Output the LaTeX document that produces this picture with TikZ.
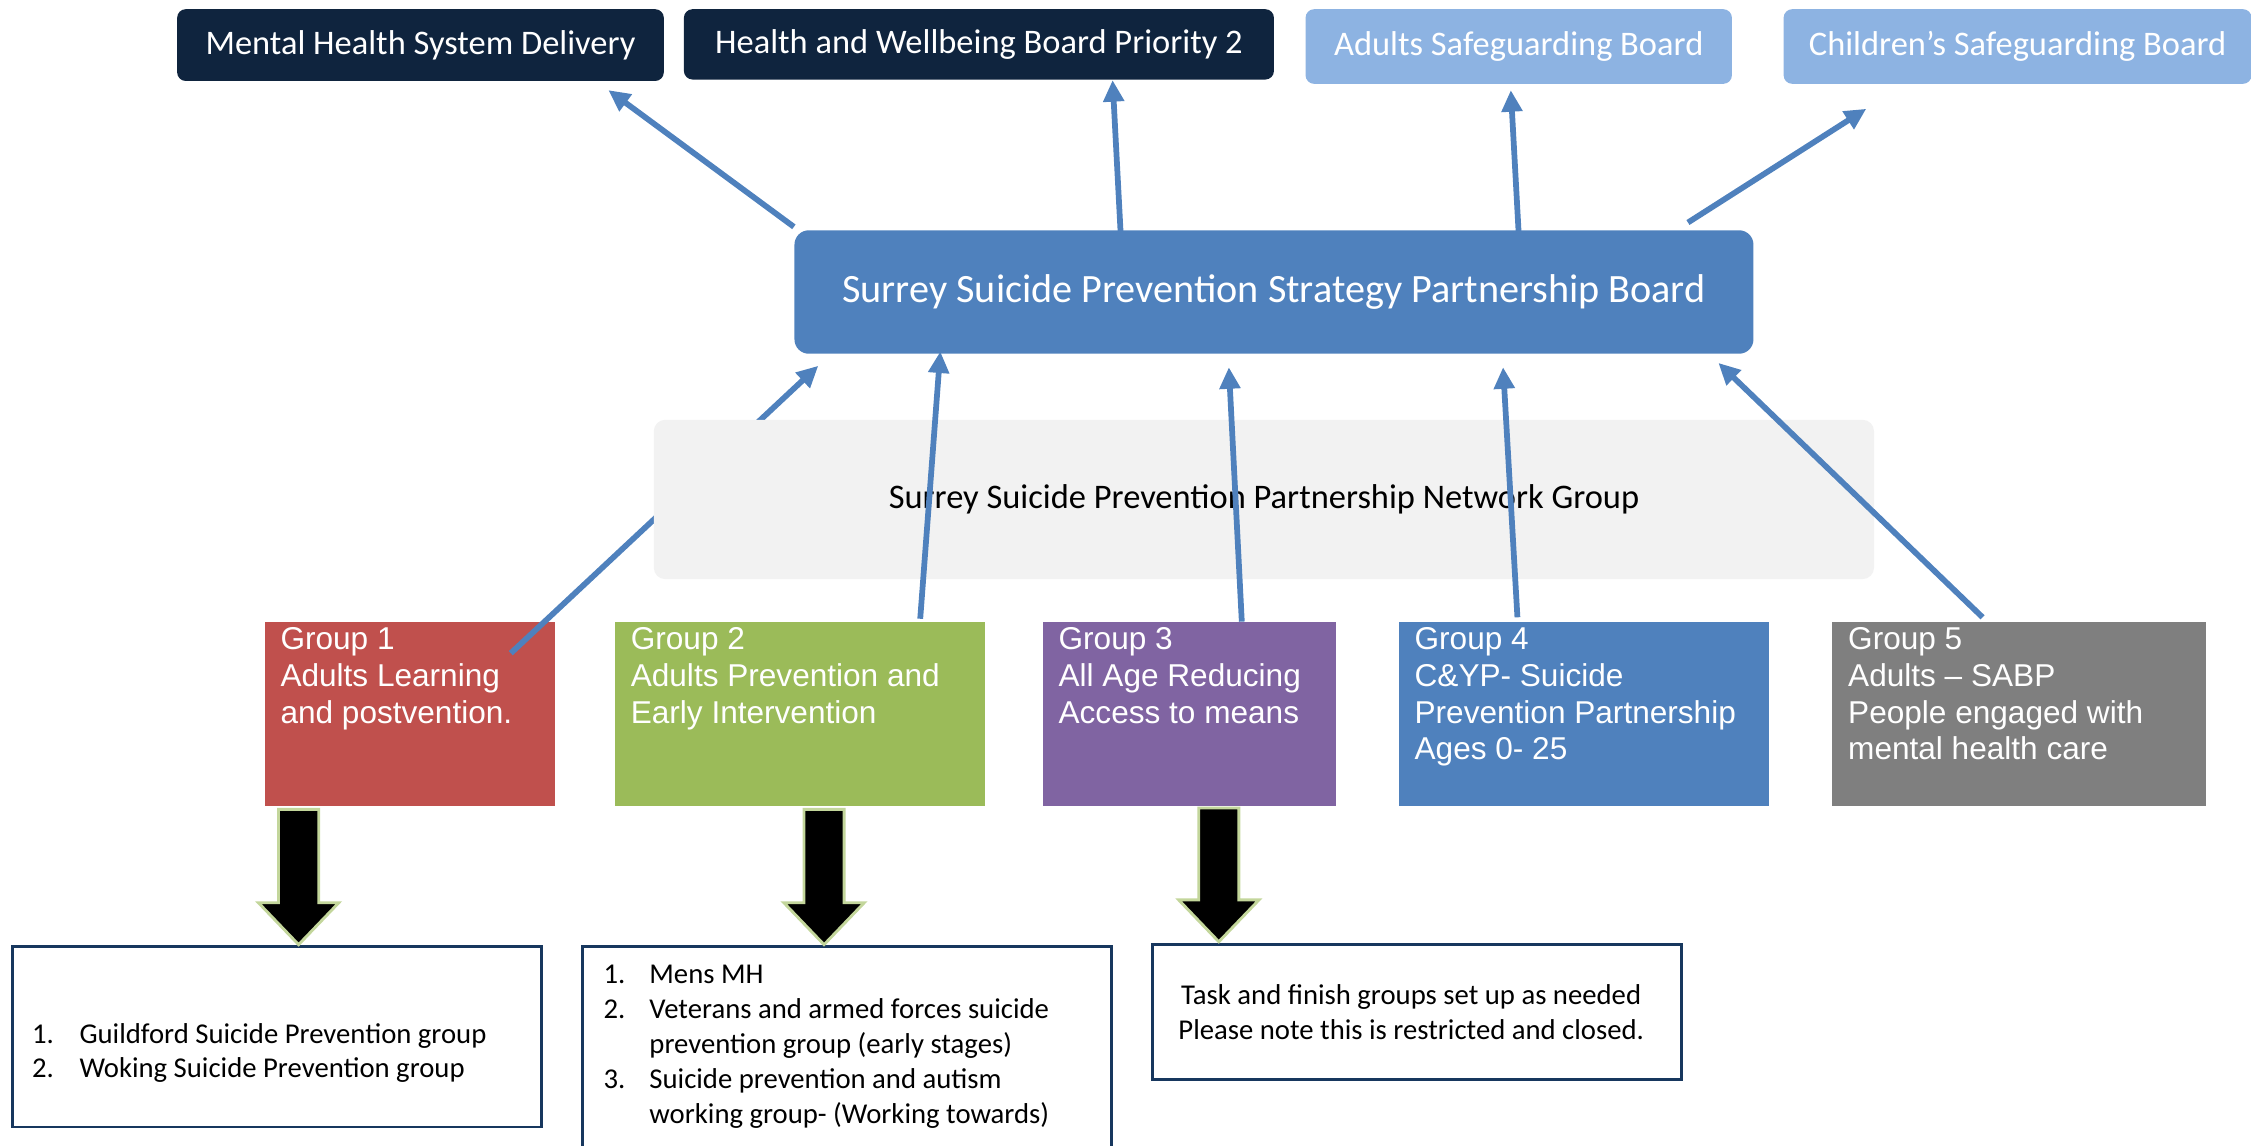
\documentclass[tikz,border=0pt]{standalone}
\usepackage{fontspec}
\setmainfont{Carlito}
\newfontfamily\arialf{Liberation Sans}
\usetikzlibrary{calc,arrows.meta}
\definecolor{navy}{HTML}{0F243E}
\definecolor{lightblue}{HTML}{8DB3E2}
\definecolor{boardblue}{HTML}{4F81BD}
\definecolor{arrowblue}{HTML}{4F81BD}
\definecolor{netgray}{HTML}{F2F2F2}
\definecolor{gone}{HTML}{C0504D}
\definecolor{gtwo}{HTML}{9BBB59}
\definecolor{gthree}{HTML}{8064A2}
\definecolor{gfour}{HTML}{4F81BD}
\definecolor{gfive}{HTML}{7F7F7F}
\definecolor{boxline}{HTML}{17375E}
\definecolor{paleline}{HTML}{C3D69B}
\begin{document}
\begin{tikzpicture}[x=0.5pt,y=-0.5pt,
  topdark/.style={rounded corners=3pt, fill=navy, text=white, anchor=north west, inner sep=0pt, font=\fontsize{12}{14}\selectfont},
  toplight/.style={rounded corners=3pt, fill=lightblue, text=white, anchor=north west, inner sep=0pt, font=\fontsize{12}{14}\selectfont},
  boardbox/.style={rounded corners=5pt, fill=boardblue, text=white, anchor=north west, inner sep=0pt, font=\fontsize{14}{16}\selectfont},
  netbox/.style={rounded corners=4pt, fill=netgray, text=black, anchor=north west, inner sep=0pt, font=\fontsize{12}{14}\selectfont},
  gbox/.style={anchor=north west, inner sep=0pt, minimum height=64pt},
  gtext/.style={anchor=north west, inner sep=0pt, align=left, text=white, font=\arialf\fontsize{11}{12.75}\selectfont},
  bbox/.style={anchor=north west, inner sep=0pt, draw=boxline, line width=1pt, fill=white},
  btext/.style={inner sep=0pt, font=\fontsize{10}{12}\selectfont},
  barrow/.style={draw=arrowblue, line width=2pt, -{Triangle[width=7pt,length=7.5pt]}},
  blk/.style={fill=black, draw=paleline, line width=1pt, line join=miter}
]
\useasboundingbox (0,0) rectangle (1568,798);
\clip (0,0) rectangle (1568,798);

% top boards
\node[topdark, minimum width=169.5pt, minimum height=25pt] (mh) at (123,6) {Mental Health System Delivery};
\node[topdark, minimum width=205.5pt, minimum height=24.5pt] (hw) at (476,6) {Health and Wellbeing Board Priority 2};
\node[toplight, minimum width=148.5pt, minimum height=26pt] (asb) at (909,6) {Adults Safeguarding Board};
\node[toplight, minimum width=163pt, minimum height=26pt] (csb) at (1242,6) {Children’s Safeguarding Board};

% main board
\node[boardbox, minimum width=334pt, minimum height=43pt] (board) at (553,160) {Surrey Suicide Prevention Strategy Partnership Board};

% groups
\node[gbox, fill=gone, minimum width=101pt] (g1) at (184,433) {};
\node[gbox, fill=gtwo, minimum width=129pt] (g2) at (428,433) {};
\node[gbox, fill=gthree, minimum width=102pt] (g3) at (726,433) {};
\node[gbox, fill=gfour, minimum width=129pt] (g4) at (974,433) {};
\node[gbox, fill=gfive, minimum width=130pt] (g5) at (1276,433) {};

\node[gtext] (g1t) at ($(g1.north west)+(11,4)$) {Group 1\\Adults Learning\\and postvention.};
\node[gtext] (g2t) at ($(g2.north west)+(11,4)$) {Group 2\\Adults Prevention and\\Early Intervention};
\node[gtext] (g3t) at ($(g3.north west)+(11,4)$) {Group 3\\All Age Reducing\\Access to means};
\node[gtext] (g4t) at ($(g4.north west)+(11,4)$) {Group 4\\C\&YP- Suicide\\Prevention Partnership\\Ages 0- 25};
\node[gtext] (g5t) at ($(g5.north west)+(11,4)$) {Group 5\\Adults – SABP\\People engaged with\\mental health care};

% arrow from group 1 passes behind the network box
\draw[barrow] ($(g1.north east)+(-31,22)$) -- ($(board.south west)+(17,8)$);

% network group
\node[netbox, minimum width=425pt, minimum height=55.5pt] (net) at (455,292) {Surrey Suicide Prevention Partnership Network Group};

% arrows up to board
\draw[barrow] ($(g2.north west)+(213,-2)$) -- ($(board.south west)+(102,-2)$);
\draw[barrow] ($(g3.north west)+(139,0)$) -- ($(board.south west)+(303,9)$);
\draw[barrow] ($(g4.north west)+(83,-3)$) -- ($(board.south west)+(494,9)$);
\draw[barrow] ($(g5.north west)+(105,-3)$) -- ($(board.south west)+(644,6)$);

% arrows from board to top boards
\draw[barrow] ($(board.north west)+(0,-2)$) -- ($(mh.south east)+(-39,6)$);
\draw[barrow] ($(board.north west)+(228,10)$) -- ($(hw.south west)+(299,0)$);
\draw[barrow] ($(board.north west)+(505,5)$) -- ($(asb.south)+(-5.5,4)$);
\draw[barrow] ($(board.north east)+(-46,-5)$) -- ($(csb.south west)+(58,17)$);

% bottom boxes
\node[bbox, minimum width=184pt, minimum height=63pt] (b1) at (8,658) {};
\node[bbox, minimum width=184pt, minimum height=75pt] (b2) at (405,658) {};
\node[bbox, minimum width=184pt, minimum height=47pt] (b3) at (802,657) {};

\node[btext, anchor=west] (b1t) at ($(b1.north west)+(14,76)$) {\begin{tabular}{@{}p{16.5pt}@{}l@{}}
1. & Guildford Suicide Prevention group\\
2. & Woking Suicide Prevention group
\end{tabular}};
\node[btext, anchor=west, font=\fontsize{10}{12.25}\selectfont] (b2t) at ($(b2.north west)+(15,71)$) {\begin{tabular}{@{}p{16pt}@{}l@{}}
1. & Mens MH\\
2. & Veterans and armed forces suicide\\
 & prevention group (early stages)\\
3. & Suicide prevention and autism\\
 & working group- (Working towards)
\end{tabular}};
\node[btext, align=center] (b3t) at ($(b3.center)+(-4,0)$) {Task and finish groups set up as needed\\Please note this is restricted and closed.};

% black block arrows from groups to bottom boxes
\coordinate (k1) at ($(g1.south west)+(24,2)$);
\coordinate (k2) at ($(g2.south west)+(146,2)$);
\coordinate (k3) at ($(g3.south west)+(123,1)$);
\draw[blk] ($(k1)+(-14,0)$) -- ++(28,0) -- ++(0,65) -- ++(14,0) -- ($(b1.north west)+(200,0)$) -- ($(k1)+(-28,65)$) -- ++(14,0) -- cycle;
\draw[blk] ($(k2)+(-14,0)$) -- ++(28,0) -- ++(0,65) -- ++(14,0) -- ($(b2.north west)+(169,0)$) -- ($(k2)+(-28,65)$) -- ++(14,0) -- cycle;
\draw[blk] ($(k3)+(-14,0)$) -- ++(28,0) -- ++(0,64) -- ++(14,0) -- ($(b3.north west)+(47,-1)$) -- ($(k3)+(-28,64)$) -- ++(14,0) -- cycle;
\end{tikzpicture}
\end{document}
